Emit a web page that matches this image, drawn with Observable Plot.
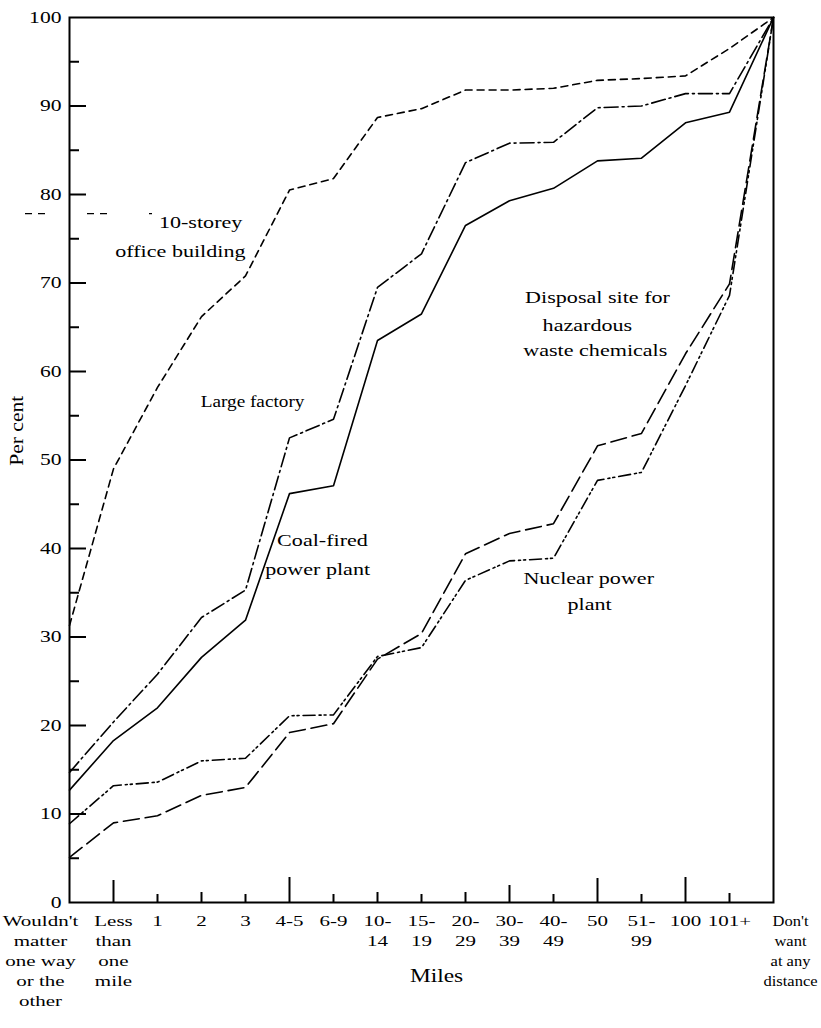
<!DOCTYPE html>
<html><head><meta charset="utf-8">
<script src="https://cdn.jsdelivr.net/npm/d3@7"></script>
<script src="https://cdn.jsdelivr.net/npm/@observablehq/plot@0.6"></script>
<style>body{margin:0;background:#fff}</style>
</head><body><div id="chart"></div>
<script>
// ---- data ----
const categories = ["Wouldn't matter one way or the other", "Less than one mile", "1", "2", "3", "4-5", "6-9", "10-14", "15-19", "20-29", "30-39", "40-49", "50", "51-99", "100", "101+", "Don't want at any distance"];
const tickLabels = ["Wouldn't\nmatter\none way\nor the\nother", "Less\nthan\none\nmile", "1", "2", "3", "4-5", "6-9", "10-\n14", "15-\n19", "20-\n29", "30-\n39", "40-\n49", "50", "51-\n99", "100", "101+", "Don't\nwant\nat any\ndistance"];
const yTicks = [0, 10, 20, 30, 40, 50, 60, 70, 80, 90, 100];
const yMinorTicks = [5, 15, 25, 35, 45, 55, 65, 75, 85, 95];

const officeBuilding = [31.3, 49, 58.2, 66.2, 70.8, 80.5, 81.8, 88.7, 89.7, 91.8, 91.8, 92, 92.9, 93.1, 93.4, 96.5, 100];
const largeFactory   = [14.7, 20.4, 25.8, 32.2, 35.3, 52.5, 54.6, 69.5, 73.3, 83.6, 85.8, 85.9, 89.8, 90.0, 91.4, 91.4, 100];
const coalPlant      = [12.7, 18.3, 22.0, 27.7, 31.9, 46.2, 47.1, 63.5, 66.5, 76.5, 79.3, 80.7, 83.8, 84.1, 88.1, 89.3, 100];
const disposalSite   = [5.1, 9.0, 9.8, 12.1, 13.0, 19.2, 20.2, 27.5, 30.4, 39.4, 41.7, 42.8, 51.6, 53.0, 62.0, 69.9, 100];
const nuclearPlant   = [8.9, 13.2, 13.6, 16.0, 16.3, 21.1, 21.2, 27.8, 28.8, 36.4, 38.6, 38.9, 47.7, 48.6, 58.4, 68.6, 100];

const seriesNames = ["10-storey office building", "Large factory", "Coal-fired power plant", "Disposal site for hazardous waste chemicals", "Nuclear power plant"];
const seriesValues = [officeBuilding, largeFactory, coalPlant, disposalSite, nuclearPlant];

// annotation text lines (x in category-index units, y in per cent)
const labelText = ["10-storey", "office building", "Coal-fired", "power plant", "Disposal site for", "hazardous", "waste chemicals", "Nuclear power", "plant"];
const labelX    = [2.98, 2.52, 5.75, 5.64, 12.0, 11.77, 11.95, 11.8, 11.82];
const labelY    = [76.8, 73.6, 40.9, 37.6, 68.4, 65.2, 62.4, 36.6, 33.7];

// ---- styles ----
const dashes = ["7,5", "14,4,2,4", "none", "16,6", "12,4,2,3,2,4"];
const xTickLength = [0, 22, 8, 10, 8, 25, 8, 10, 8, 10, 17, 8, 24, 8, 25, 9, 0];

const W = 821, H = 1028, mL = 69, mR = 48, mT = 17, mB = 126;
const pxY = (H - mT - mB) / 100;
const pxX = (W - mL - mR) / (categories.length - 1);
const font = "'Liberation Serif', 'Times New Roman', serif";

const rows = seriesNames.flatMap((name, s) => categories.map((c, i) => ({name, i, v: seriesValues[s][i]})));
const last = categories.length - 1;
const tag = (k) => () => k;

const marks = [
  ...seriesNames.map((name, s) => Plot.line(rows.filter(r => r.name === name), {
    x: "i", y: "v", stroke: "black", strokeWidth: 1.6, strokeDasharray: dashes[s]
  })),
  // y ticks (inward)
  Plot.ruleY(yTicks.slice(1, -1), {y: d => d, x1: 0, x2: 17 / pxX, stroke: "black", strokeWidth: 2}),
  Plot.ruleY(yMinorTicks, {y: d => d, x1: 0, x2: 10 / pxX, stroke: "black", strokeWidth: 2}),
  // x ticks (inward)
  Plot.ruleX(d3.range(1, last), {x: d => d, y1: 0, y2: d => xTickLength[d] / pxY, stroke: "black", strokeWidth: 2}),
  // key dash beside label
  Plot.ruleY([77.85], {x1: -44 / pxX, x2: 83 / pxX, stroke: "black", strokeWidth: 1.3, strokeDasharray: "7,6,7,42"}),
  Plot.frame({stroke: "black", strokeWidth: 2}),
  // y tick labels
  Plot.text(yTicks, {x: 0, y: d => d, text: d => String(d), dx: -8, textAnchor: "end", fontSize: 16, fill: "black", ariaLabel: tag("ylabels")}),
  // x tick labels
  Plot.text(tickLabels.slice(1, -1), {x: (d, i) => i + 1, y: 0, text: d => d, dy: 9, lineAnchor: "top", lineHeight: 1.43, fontSize: 14, fill: "black", ariaLabel: tag("xlabels")}),
  Plot.text([tickLabels[0]], {x: 0, y: 0, text: d => d, dx: -29, dy: 9, lineAnchor: "top", lineHeight: 1.43, fontSize: 14, fill: "black", ariaLabel: tag("xlabels")}),
  Plot.text([tickLabels[last]], {x: last, y: 0, text: d => d, dx: 17, dy: 9, lineAnchor: "top", lineHeight: 1.43, fontSize: 14, fill: "black", ariaLabel: tag("xlast")}),
  // axis titles
  Plot.text(["Miles"], {frameAnchor: "bottom", dx: 15, dy: 79, fontSize: 18, fill: "black", ariaLabel: tag("titles")}),
  Plot.text(["Per cent"], {x: 0, y: 53.3, dx: -52, rotate: -90, fontSize: 18, fill: "black", ariaLabel: tag("ytitle")}),
  // series labels
  Plot.text(labelText, {x: (d, i) => labelX[i], y: (d, i) => labelY[i], text: d => d, fontSize: 17, fill: "black", ariaLabel: tag("series")}),
  Plot.text(["Large factory"], {x: 4.16, y: 56.6, fontSize: 17.5, fill: "black", ariaLabel: tag("factory")})
];

const svg = Plot.plot({
  width: W, height: H,
  marginLeft: mL, marginRight: mR, marginTop: mT, marginBottom: mB,
  x: {type: "linear", domain: [0, last], axis: null},
  y: {domain: [0, 100], axis: null},
  style: {fontFamily: font, background: "white", color: "black", overflow: "visible"},
  marks
});

const stretch = {xlabels: 1.5, xlast: 1.18, ylabels: 1.35, titles: 1.3, ytitle: 1.2, series: 1.3, factory: 1.1};
for (const [k, s] of Object.entries(stretch)) {
  svg.querySelectorAll(`text[aria-label="${k}"]`).forEach(t => {
    t.setAttribute("transform", (t.getAttribute("transform") || "") + ` scale(${s},1)`);
    t.removeAttribute("aria-label");
  });
}
document.getElementById("chart").appendChild(svg);
</script>
</body></html>
